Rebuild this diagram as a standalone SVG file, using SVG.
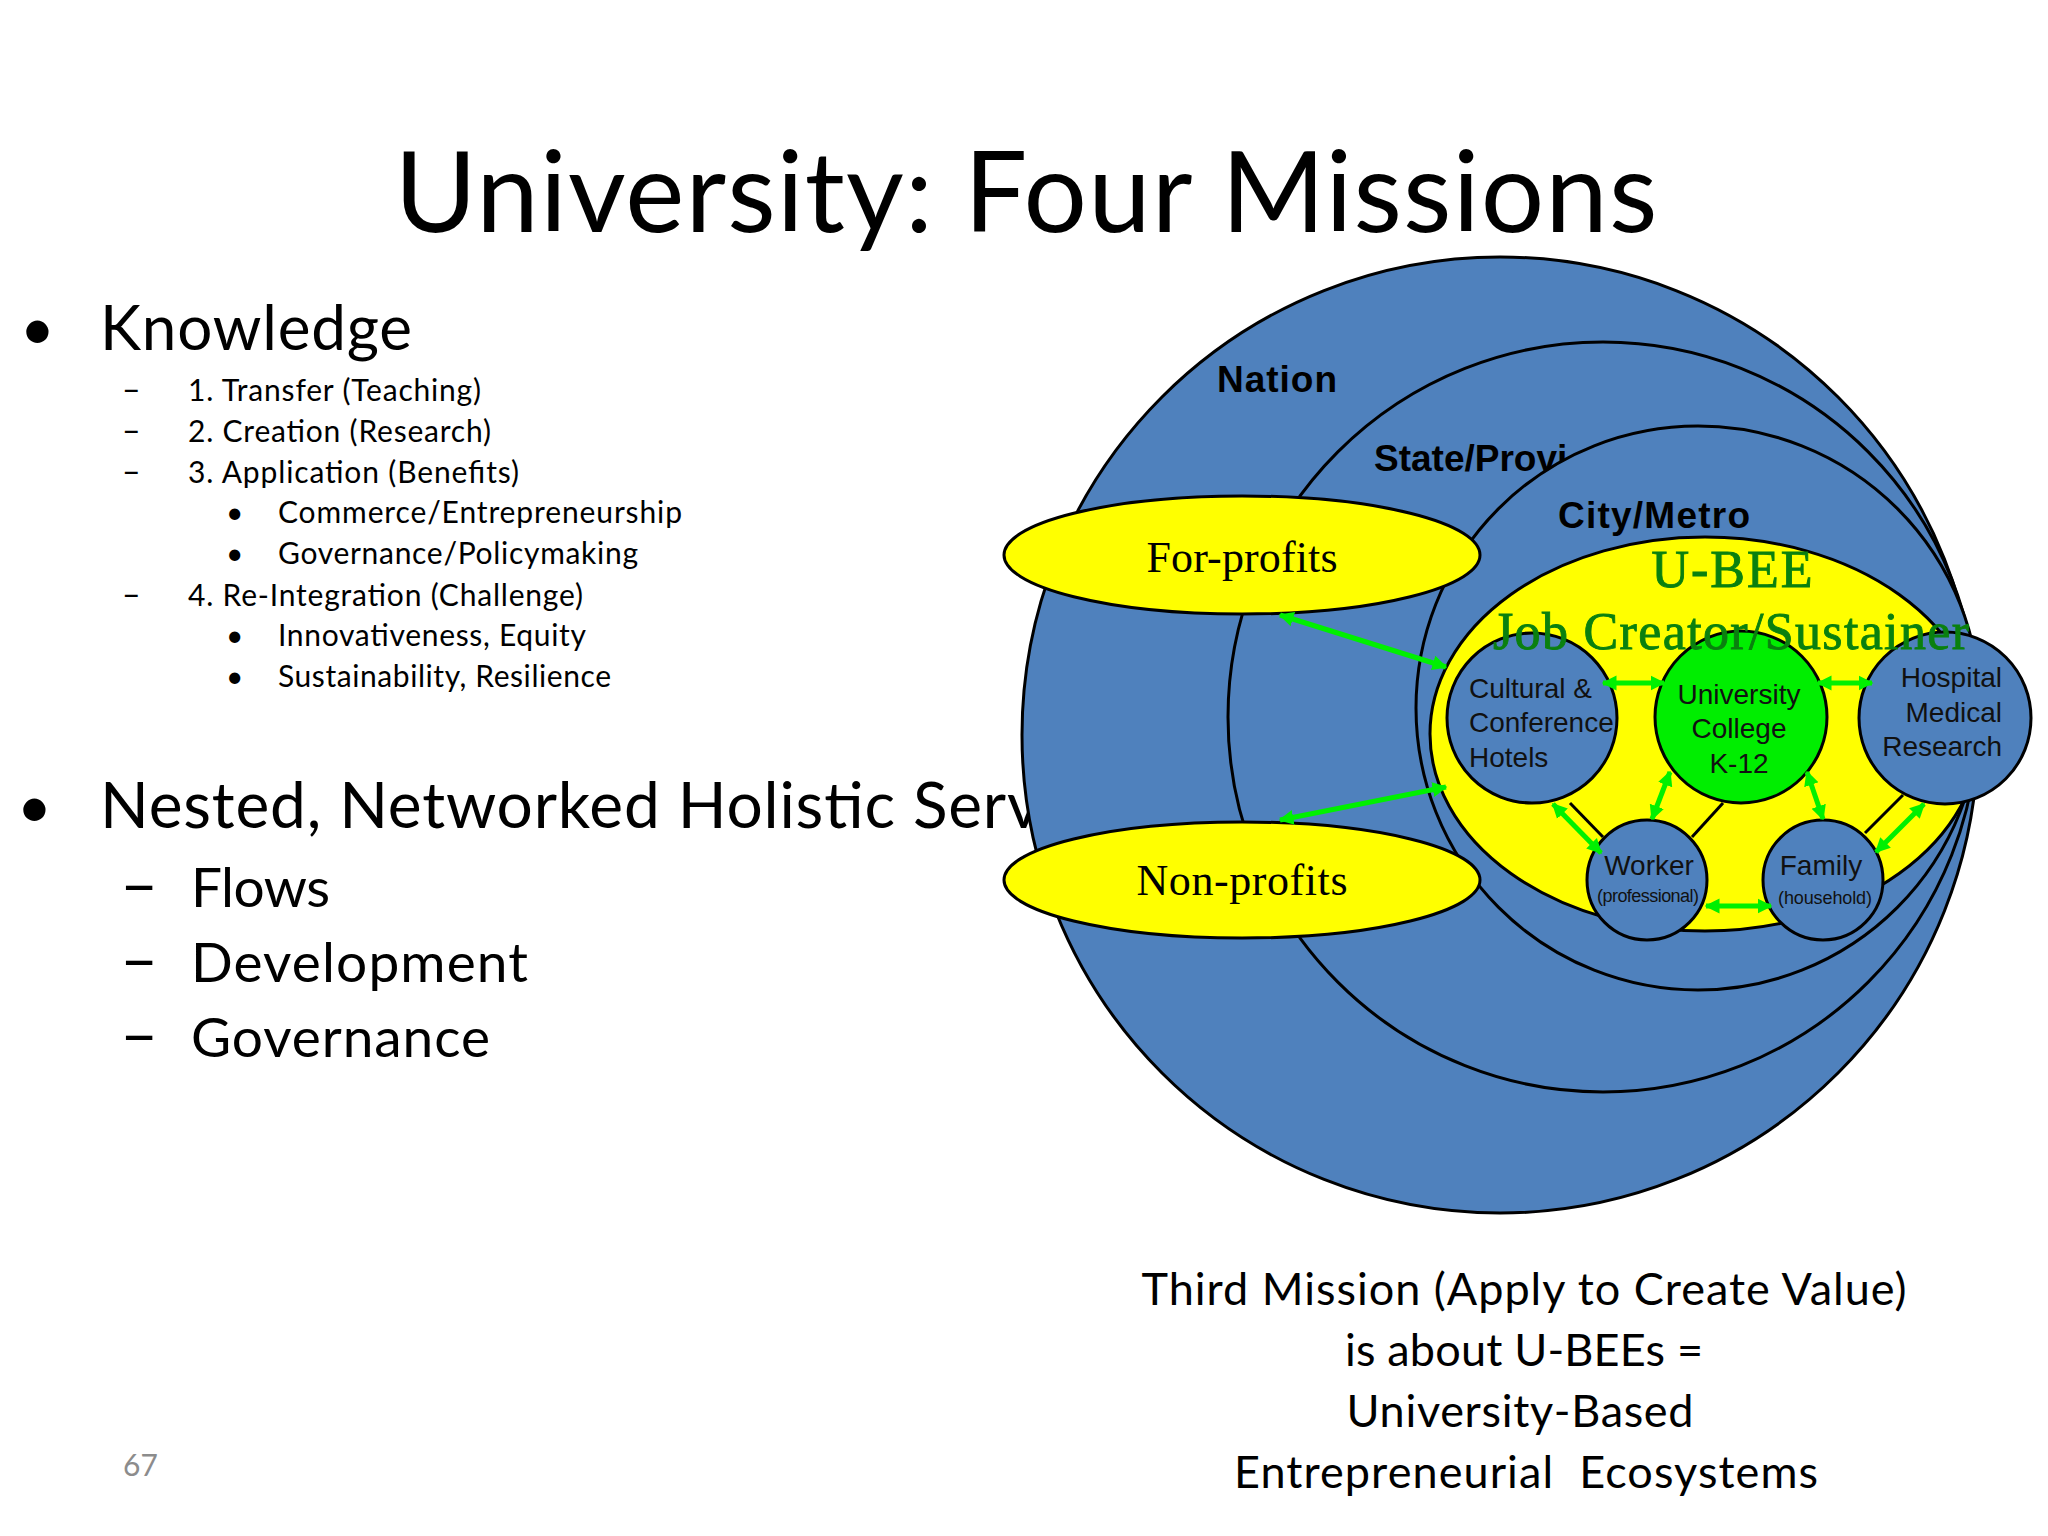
<svg xmlns="http://www.w3.org/2000/svg" width="2048" height="1536" viewBox="0 0 2048 1536">
<defs>
<style>
.cal{font-family:Lato,"Open Sans","Liberation Sans",sans-serif;fill:#000}
.ar{font-family:"Liberation Sans",Arial,sans-serif;fill:#111}
.arb{font-family:"Liberation Sans",Arial,sans-serif;font-weight:bold;fill:#000}
.ser{font-family:"Liberation Serif","Times New Roman",serif}
.gtxt{fill:#0A800F;stroke:#0A800F;stroke-width:0.9}
.blue{fill:#4F81BD;stroke:#000;stroke-width:3}
.yel{fill:#FFFF00;stroke:#000;stroke-width:3}
.grn{fill:#00EE00;stroke:#000;stroke-width:3}
.arrow{stroke:#00F000;stroke-width:5;fill:none;marker-start:url(#ah);marker-end:url(#ah)}
.thin{stroke:#000;stroke-width:3}
</style>
<marker id="ah" viewBox="0 0 10 10" refX="9" refY="5" markerWidth="3" markerHeight="3.4" orient="auto-start-reverse" markerUnits="strokeWidth">
<path d="M0,0 L10,5 L0,10 z" fill="#00F000"/>
</marker>
</defs>
<rect width="2048" height="1536" fill="#fff"/>

<g id="title"><text class="cal" x="1026" y="232" font-size="112" text-anchor="middle" textLength="1263">University: Four Missions</text></g>

<g id="left-text">
<text class="cal" x="20" y="350" font-size="60">•</text>
<text class="cal" x="100" y="350" font-size="62" textLength="312">Knowledge</text>
<g font-size="30">
<text class="cal" x="122" y="401" font-size="32">–</text><text class="cal" x="188" y="401" textLength="293">1. Transfer (Teaching)</text>
<text class="cal" x="122" y="442" font-size="32">–</text><text class="cal" x="188" y="442" textLength="303">2. Creation (Research)</text>
<text class="cal" x="122" y="483" font-size="32">–</text><text class="cal" x="188" y="483" textLength="331">3. Application (Benefits)</text>
<text class="cal" x="226" y="523">•</text><text class="cal" x="278" y="523" textLength="404">Commerce/Entrepreneurship</text>
<text class="cal" x="226" y="564">•</text><text class="cal" x="278" y="564" textLength="360">Governance/Policymaking</text>
<text class="cal" x="122" y="606" font-size="32">–</text><text class="cal" x="188" y="606" textLength="395">4. Re-Integration (Challenge)</text>
<text class="cal" x="226" y="646">•</text><text class="cal" x="278" y="646" textLength="308">Innovativeness, Equity</text>
<text class="cal" x="226" y="687">•</text><text class="cal" x="278" y="687" textLength="333">Sustainability, Resilience</text>
</g>
<text class="cal" x="17" y="828" font-size="60">•</text>
<text class="cal" x="100" y="828" font-size="64" textLength="940">Nested, Networked Holistic Serv</text>
<text class="cal" x="120" y="907" font-size="66">–</text><text class="cal" x="191" y="907" font-size="55" textLength="139">Flows</text>
<text class="cal" x="120" y="982" font-size="66">–</text><text class="cal" x="191" y="982" font-size="55" textLength="337">Development</text>
<text class="cal" x="120" y="1057" font-size="66">–</text><text class="cal" x="191" y="1057" font-size="55" textLength="299">Governance</text>
</g>

<g id="nation"><circle class="blue" cx="1500" cy="735" r="478"/><text class="arb" x="1217" y="392" font-size="37" textLength="120">Nation</text></g>
<g id="state"><circle class="blue" cx="1603" cy="717" r="375"/><text class="arb" x="1374" y="471" font-size="37">State/Provi</text></g>
<g id="city"><circle class="blue" cx="1698" cy="708" r="282"/><text class="arb" x="1558" y="528" font-size="37" textLength="192">City/Metro</text></g>

<g id="for-profits"><ellipse class="yel" cx="1242" cy="555" rx="238" ry="59"/><text class="ser" x="1242" y="572" font-size="44" text-anchor="middle" textLength="191">For-profits</text></g>
<g id="non-profits"><ellipse class="yel" cx="1242" cy="880" rx="238" ry="58"/><text class="ser" x="1242" y="895" font-size="44" text-anchor="middle" textLength="211">Non-profits</text></g>

<g id="ubee"><ellipse class="yel" cx="1705" cy="734" rx="275" ry="197"/></g>

<g id="links">
<line class="thin" x1="1570" y1="803" x2="1603" y2="837"/>
<line class="thin" x1="1723" y1="803" x2="1692" y2="837"/>
<line class="thin" x1="1903" y1="795" x2="1865" y2="833"/>
</g>

<g id="cultural"><circle class="blue" cx="1532" cy="718" r="85"/>
<text class="ar" x="1469" y="698" font-size="28">Cultural &amp;</text>
<text class="ar" x="1469" y="732" font-size="28">Conference</text>
<text class="ar" x="1469" y="767" font-size="28">Hotels</text></g>
<g id="university"><circle class="grn" cx="1741" cy="717" r="86"/>
<text class="ar" x="1739" y="704" font-size="28" text-anchor="middle">University</text>
<text class="ar" x="1739" y="738" font-size="28" text-anchor="middle">College</text>
<text class="ar" x="1739" y="773" font-size="28" text-anchor="middle">K-12</text></g>
<g id="hospital"><circle class="blue" cx="1945" cy="718" r="86"/>
<text class="ar" x="2002" y="687" font-size="28" text-anchor="end">Hospital</text>
<text class="ar" x="2002" y="722" font-size="28" text-anchor="end">Medical</text>
<text class="ar" x="2002" y="756" font-size="28" text-anchor="end">Research</text></g>
<g id="worker"><circle class="blue" cx="1647" cy="880" r="60"/>
<text class="ar" x="1649" y="875" font-size="28" text-anchor="middle">Worker</text>
<text class="ar" x="1648" y="902" font-size="18" text-anchor="middle" textLength="102">(professional)</text></g>
<g id="family"><circle class="blue" cx="1823" cy="880" r="60"/>
<text class="ar" x="1821" y="875" font-size="28" text-anchor="middle">Family</text>
<text class="ar" x="1825" y="904" font-size="18" text-anchor="middle" textLength="94">(household)</text></g>

<g id="connectors">
<line class="arrow" x1="1280" y1="615" x2="1446" y2="667"/>
<line class="arrow" x1="1446" y1="787" x2="1280" y2="820"/>
<line class="arrow" x1="1603" y1="683" x2="1664" y2="683"/>
<line class="arrow" x1="1818" y1="683" x2="1872" y2="683"/>
<line class="arrow" x1="1670" y1="772" x2="1652" y2="819"/>
<line class="arrow" x1="1807" y1="772" x2="1823" y2="819"/>
<line class="arrow" x1="1553" y1="804" x2="1601" y2="853"/>
<line class="arrow" x1="1924" y1="804" x2="1876" y2="852"/>
<line class="arrow" x1="1706" y1="906" x2="1771" y2="906"/>
</g>

<g id="ubee-labels">
<text class="ser gtxt" x="1732" y="587" font-size="52" text-anchor="middle" textLength="161">U-BEE</text>
<text class="ser gtxt" x="1493" y="649" font-size="52" textLength="476">Job Creator/Sustainer</text>
</g>

<g id="caption">
<text class="cal" x="1524" y="1305" font-size="45" text-anchor="middle" textLength="765">Third Mission (Apply to Create Value)</text>
<text class="cal" x="1524" y="1366" font-size="45" text-anchor="middle" textLength="358">is about U-BEEs =</text>
<text class="cal" x="1520" y="1427" font-size="45" text-anchor="middle" textLength="347">University-Based</text>
<text class="cal" x="1526" y="1488" font-size="45" text-anchor="middle" textLength="584" xml:space="preserve">Entrepreneurial  Ecosystems</text>
</g>
<text class="cal" x="123" y="1476" font-size="30" style="fill:#8C8C8C">67</text>
</svg>
